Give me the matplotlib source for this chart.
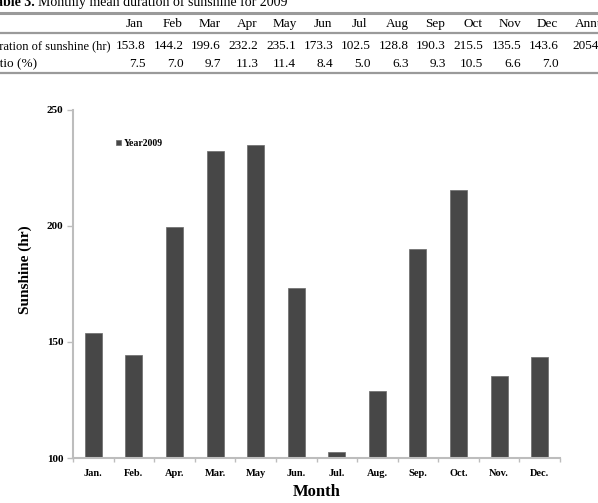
import matplotlib
matplotlib.use("Agg")
import matplotlib.pyplot as plt
import numpy as np

plt.rcParams['font.family'] = ['Liberation Serif', 'DejaVu Serif']

# table data
months = ["Jan", "Feb", "Mar", "Apr", "May", "Jun", "Jul", "Aug", "Sep", "Oct", "Nov", "Dec"]
sunshine = [153.8, 144.2, 199.6, 232.2, 235.1, 173.3, 102.5, 128.8, 190.3, 215.5, 135.5, 143.6]
ratio = [7.5, 7.0, 9.7, 11.3, 11.4, 8.4, 5.0, 6.3, 9.3, 10.5, 6.6, 7.0]
annual = "2054.4"

# chart labels (as printed in the figure)
bar_labels = ["Jan.", "Feb.", "Apr.", "Mar.", "May", "Jun.", "Jul.", "Aug.", "Sep.", "Oct.", "Nov.", "Dec."]
y_ticks = [100, 150, 200, 250]

W, H = 598, 503
fig = plt.figure(figsize=(W / 100, H / 100), dpi=100)


def ftext(x, y, s, **kw):
    fig.text(x / W, 1 - y / H, s, va="baseline", **kw)


def rule(y, lw=1.2, color="#9a9a9a"):
    fig.add_artist(plt.Line2D([0, 1], [1 - y / H, 1 - y / H], transform=fig.transFigure,
                              color=color, lw=lw))


# table on top (cropped like the page scan)
ftext(35, 6, "Table 3.", fontsize=10, fontweight="bold", ha="right")
ftext(38, 6, "Monthly mean duration of sunshine for 2009", fontsize=10)
rule(13, lw=2.2)
rule(33, lw=1.6)
rule(73, lw=1.6)

fs = 9.5
col_x = [135 + 37.5 * i for i in range(12)]
for cx, m, s, r in zip(col_x, months, sunshine, ratio):
    ftext(cx, 27, m, fontsize=fs, ha="center")
    ftext(cx + 11, 49, f"{s:.1f}", fontsize=fs, ha="right")
    ftext(cx + 11, 67, f"{r:.1f}", fontsize=fs, ha="right")
ftext(575, 27, "Annual", fontsize=fs, ha="left")
ftext(572, 49, annual, fontsize=fs, ha="left")
ftext(-16, 49, "Duration of sunshine (hr)", fontsize=9, ha="left")
ftext(-15, 67, "Ratio (%)", fontsize=fs, ha="left")

# bar chart
ax = fig.add_axes([73 / W, 1 - 458 / H, (560 - 73) / W, (458 - 110) / H])
x = np.arange(len(bar_labels))
ax.bar(x, sunshine, width=0.42, bottom=0, color="#474747", edgecolor="#6a6a6a",
       linewidth=0.5, label="Year2009")
ax.set_xlim(-0.5, len(bar_labels) - 0.5)
ax.set_ylim(100, 250)
ax.set_yticks(y_ticks)
ax.set_yticklabels([str(v) for v in y_ticks], fontsize=8, fontweight="bold")

ax.set_xticks(np.arange(-0.5, len(bar_labels), 1.0))
ax.set_xticklabels([])
ax.set_xticks(x, minor=True)
ax.set_xticklabels(bar_labels, minor=True, fontsize=7.5, fontweight="bold")
ax.tick_params(axis="x", which="minor", length=0, pad=8)
ax.tick_params(axis="x", which="major", length=3, color="#bdbdbd", width=1.0)
ax.tick_params(axis="y", length=4, color="#bdbdbd", width=1.0, pad=3)

for side in ["top", "right"]:
    ax.spines[side].set_visible(False)
for side in ["left", "bottom"]:
    ax.spines[side].set_color("#bdbdbd")
    ax.spines[side].set_linewidth(1.5)

ax.set_ylabel("Sunshine (hr)", fontsize=11, fontweight="bold")
ax.yaxis.set_label_coords((32 - 73) / 487, (458 - 270) / 348)
ax.set_xlabel("Month", fontsize=12, fontweight="bold", labelpad=4)

ax.legend(loc="upper left", bbox_to_anchor=(0.08, 0.928), frameon=False,
          prop={"size": 7, "weight": "bold"}, handlelength=0.5, handleheight=0.5,
          handletextpad=0.3, borderaxespad=0)

fig.savefig("out.png", dpi=100)
